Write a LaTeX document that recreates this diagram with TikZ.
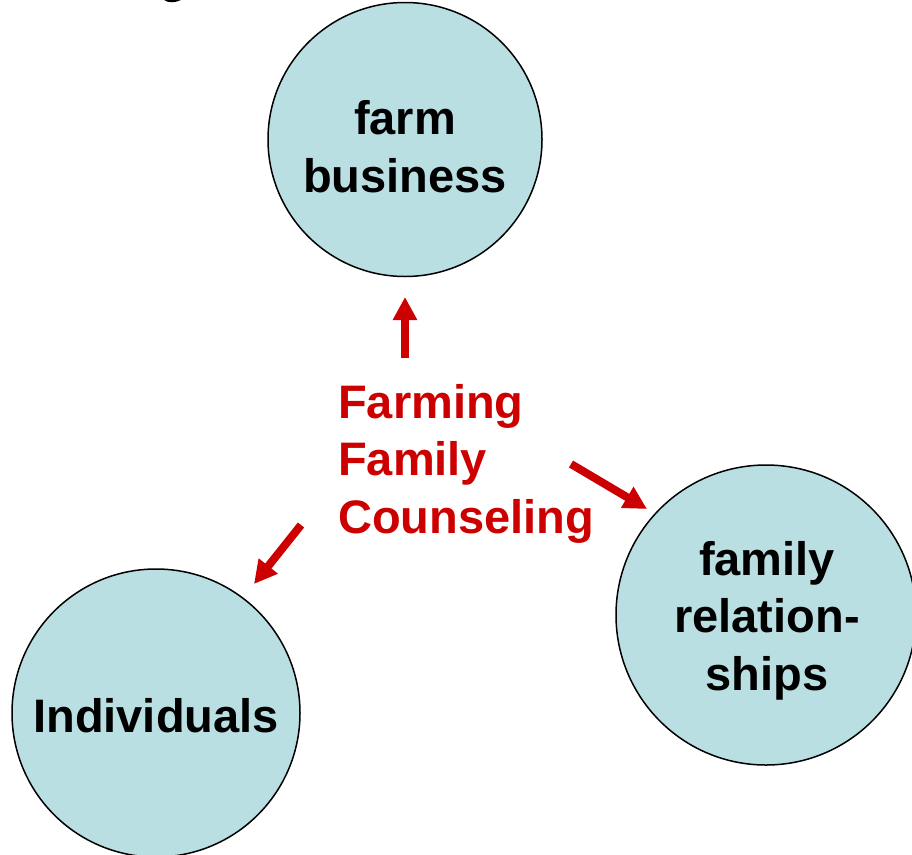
\documentclass[tikz,border=0pt]{standalone}
\usepackage{fontspec}
\setmainfont{Liberation Sans}
\usetikzlibrary{arrows.meta}
\definecolor{bubble}{RGB}{185,223,227}
\definecolor{ffred}{RGB}{204,0,0}
\tikzset{
  x=1pt, y=-1pt,
  bubblenode/.style={circle, draw=black, line width=1.5pt, fill=bubble, inner sep=0pt},
  bubbletext/.style={font=\fontsize{47}{57.5}\selectfont\bfseries, text=black, align=center, inner sep=0pt},
  redtext/.style={font=\fontsize{47}{57.5}\selectfont\bfseries, text=ffred, align=left, inner sep=0pt},
  blockarrow/.style={draw=ffred, line width=8pt, -{Triangle[length=23pt,width=23pt]}},
}
\begin{document}
\begin{tikzpicture}
\useasboundingbox (0,0) rectangle (912,854);
% clipped fragment at the top edge
\fill[black] (164,0) .. controls (168,3) and (175,3) .. (181,0) -- cycle;
% circles
\node[bubblenode, minimum size=274pt] (farm) at (405,139.5) {};
\node[bubblenode, minimum size=300pt] (rel) at (766,615) {};
\node[bubblenode, minimum size=288pt] (ind) at (156,713) {};
% circle texts (anchor = baseline of the last line)
\node[bubbletext, anchor=base] (farmtxt) at (405,192) {farm\\business};
\node[bubbletext, anchor=base] (reltxt) at (767,690) {family\\relation-\\ships};
\node[bubbletext, anchor=base] (indtxt) at (156,732) {Individuals};
% centre text
\node[redtext, anchor=base west] (ffc) at (338,533) {Farming\\Family\\Counseling};
% arrows
\coordinate (upS) at (405,358);
\coordinate (upE) at (405,297);
\coordinate (rS) at (571,464);
\coordinate (rE) at (647,509);
\coordinate (lS) at (301,525);
\coordinate (lE) at (254,584);
\draw[blockarrow] (upS) -- (upE);
\draw[blockarrow] (rS) -- (rE);
\draw[blockarrow] (lS) -- (lE);
\end{tikzpicture}
\end{document}
